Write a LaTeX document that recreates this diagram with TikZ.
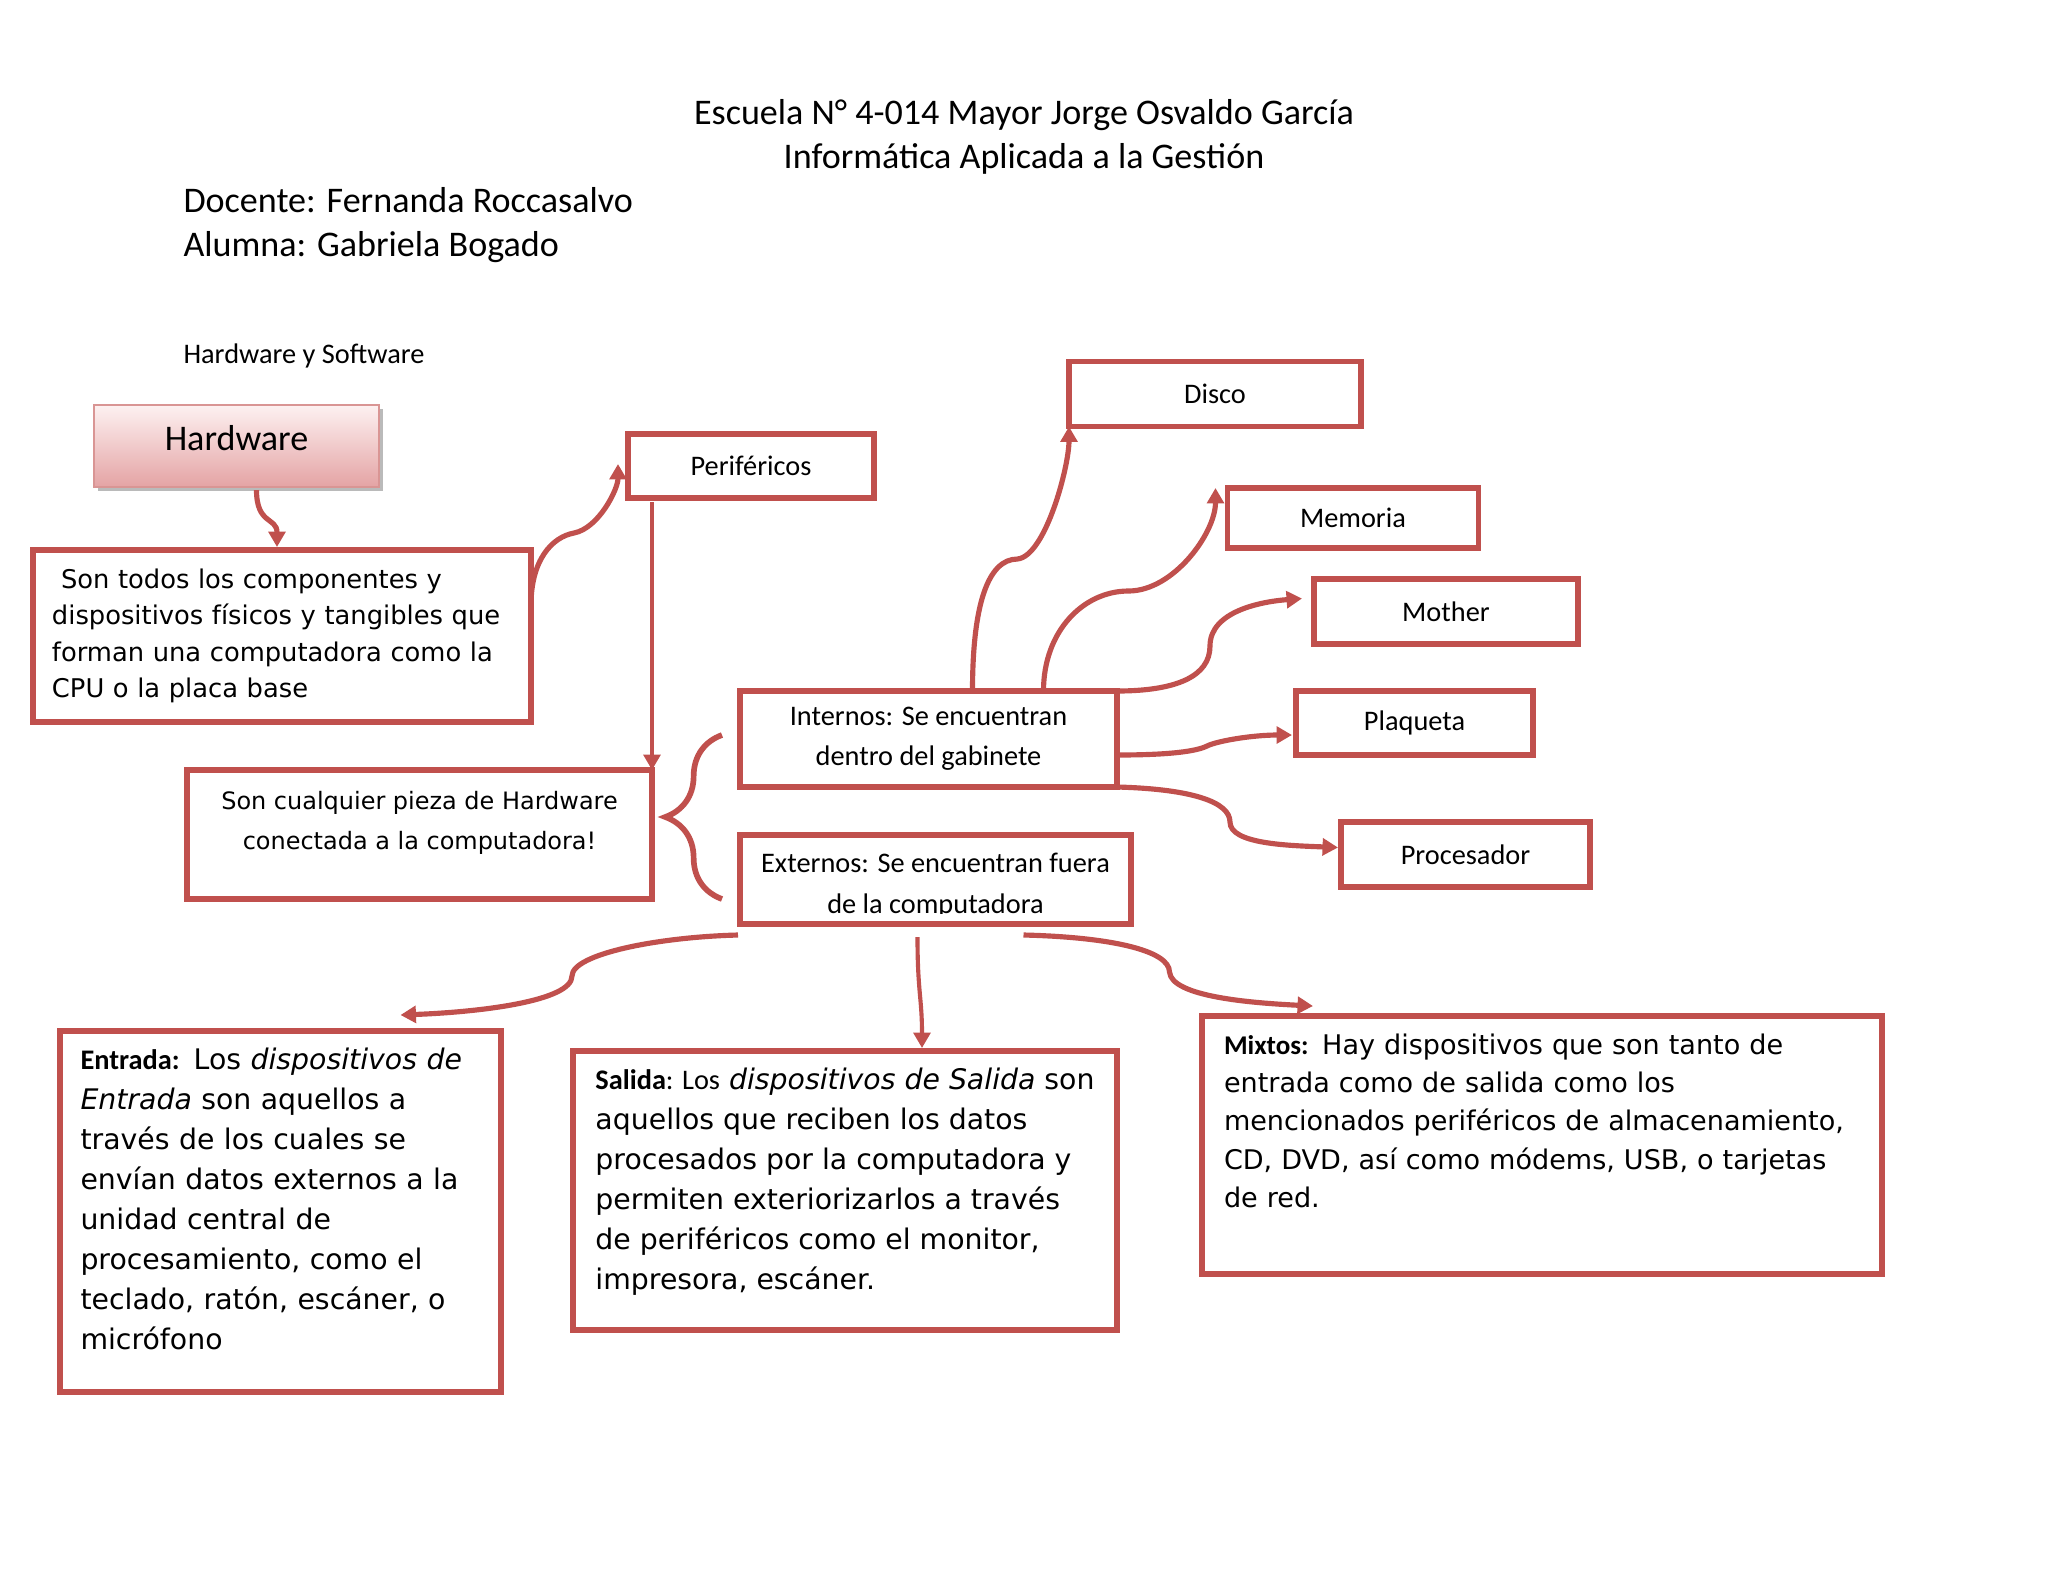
\documentclass[tikz,border=0pt]{standalone}
\usepackage{fontspec}
\setmainfont{Carlito}
\newfontfamily\verdana{DejaVu Sans}
\usepackage{tikz}
\usetikzlibrary{arrows.meta,positioning,calc,shadows,decorations.pathreplacing}
\definecolor{AccentRed}{HTML}{C0504D}
\definecolor{HwTop}{HTML}{FDF1F1}
\definecolor{HwPink}{HTML}{E4A3A4}
\definecolor{HwEdge}{HTML}{D99594}
\newcommand{\pu}{0.0136426cm}
\newcommand{\tagword}[1]{{\normalfont\bfseries #1}}
\newcommand{\padrule}[1]{\rule[-#1]{0pt}{#1}}

\begin{document}
\begin{tikzpicture}[x=\pu, y=-\pu, every node/.style={inner sep=0pt},
  box/.style={draw=AccentRed, line width=2.2pt, outer sep=0pt, fill=white, align=center, font=\fontsize{11}{15.5}\selectfont},
  hwbox/.style={draw=HwEdge, line width=0.8pt, top color=HwTop, bottom color=HwPink,
    drop shadow={shadow xshift=1.6pt, shadow yshift=-1.6pt, fill=black!45, opacity=0.6},
    font=\fontsize{14}{17}\selectfont},
  bodytext/.style={align=left, font=\verdana\fontsize{11}{15.5}\selectfont},
  link/.style={draw=AccentRed, line width=2pt, -{Triangle[length=6pt,width=6.5pt]}},
  curly/.style={draw=AccentRed, line width=2.2pt, decorate, decoration={brace, amplitude=22pt}}]
\useasboundingbox (0,0) rectangle (2048,1582);
\fill[white] (0,0) rectangle (2048,1582);

% heading
\node[align=center, font=\fontsize{14}{17}\selectfont] (title) at (1024,137) {Escuela N° 4-014 Mayor Jorge Osvaldo García\\Informática Aplicada a la Gestión};
\node[align=left, anchor=west, font=\fontsize{14}{17}\selectfont] (names) at (183,225) {Docente: Fernanda Roccasalvo\\Alumna: Gabriela Bogado};
\node[anchor=west, font=\fontsize{11}{13}\selectfont] (topic) at (183,356) {Hardware y Software};

% hardware
\node[hwbox, minimum width=285*\pu, minimum height=82*\pu] (hw) at (236.5,446) {Hardware\padrule{6pt}};
\node[box, align=left, text width=460*\pu, minimum width=498*\pu, minimum height=172*\pu, font=\verdana\fontsize{10}{14.1}\selectfont] (def) at (282,636)
  {\hspace*{0.35em}Son todos los componentes y\\dispositivos físicos y tangibles que\\forman una computadora como la\\CPU o la placa base};
\node[box, minimum width=246*\pu, minimum height=64*\pu] (peri) at (751,466) {Periféricos};
\node[box, minimum width=465*\pu, minimum height=129*\pu, font=\verdana\fontsize{9.3}{15.8}\selectfont] (son) at (419.5,834.5)
  {Son cualquier pieza de Hardware\\conectada a la computadora!\padrule{11pt}};

% internos / externos
\node[box, minimum width=377*\pu, minimum height=96*\pu] (int) at (928.5,739) {Internos: Se encuentran\\dentro del gabinete};
\node[box, minimum width=391*\pu, minimum height=89*\pu, font=\fontsize{11}{15.9}\selectfont] (ext) at (935.5,879.5) {\rule{0pt}{12pt}Externos: Se encuentran fuera\\de la computadora};
\fill[white] ($(ext.south west)+(4,-10)$) rectangle ($(ext.south east)+(-4,0)$);
\draw[AccentRed, line width=2.2pt] (ext.south west) rectangle (ext.north east);
\draw[curly] ($(ext.west)+(-18,19.5)$) -- ($(int.west)+(-18,-4)$);

% componentes internos
\node[box, minimum width=292*\pu, minimum height=65*\pu] (disco) at (1215,394) {Disco};
\node[box, minimum width=251*\pu, minimum height=60*\pu] (mem) at (1353,518) {Memoria};
\node[box, minimum width=264*\pu, minimum height=65*\pu] (mother) at (1446,611.5) {Mother};
\node[box, minimum width=237*\pu, minimum height=64*\pu] (plaq) at (1414.5,723) {Plaqueta};
\node[box, minimum width=249*\pu, minimum height=65*\pu] (proc) at (1465.5,854.5) {Procesador};

% externos
\node[box, bodytext, text width=400*\pu, minimum width=441*\pu, minimum height=361*\pu] (ent) at (280.5,1211.5)
  {\tagword{Entrada:} Los \textit{dispositivos de}\\\textit{Entrada} son aquellos a\\través de los cuales se\\envían datos externos a la\\unidad central de\\procesamiento, como el\\teclado, ratón, escáner, o\\micrófono\padrule{10pt}};
\node[box, bodytext, minimum width=544*\pu, minimum height=279*\pu] (sal) at (845,1190.5)
  {\tagword{Salida}{\normalfont: Los} \textit{dispositivos de Salida} son\\aquellos que reciben los datos\\procesados por la computadora y\\permiten exteriorizarlos a través\\de periféricos como el monitor,\\impresora, escáner.\padrule{9pt}};
\node[box, bodytext, text width=636*\pu, font=\verdana\fontsize{10.5}{14.9}\selectfont, minimum width=680*\pu, minimum height=258*\pu] (mix) at (1542,1145)
  {\tagword{Mixtos:} Hay dispositivos que son tanto de\\entrada como de salida como los\\mencionados periféricos de almacenamiento,\\CD, DVD, así como módems, USB, o tarjetas\\de red.\padrule{19pt}};

% connectors
\draw[link] ($(hw.south)+(20,2)$) .. controls +(0,35) and +(0,-30) .. ($(def.north)+(-5,-3)$);
\draw[link] ($(def.north east)+(0,55)$) .. controls +(0,-45) and +(-22,4) .. ++(43,-72) .. controls +(25,-5) and +(0,25) .. ($(peri.west)+(-10,-2)$);
\draw[link, line width=1.7pt] ($(peri.south -| son.north east)+(0,4)$) -- (son.north east);
\draw[link] ($(int.north)+(44,0)$) .. controls +(0,-85) and +(-30,0) .. ++(45,-132) .. controls +(28,-3) and +(0,40) .. (disco.south west);
\draw[link] ($(int.north)+(115,0)$) .. controls +(0,-60) and +(-45,0) .. ++(85,-100) .. controls +(45,0) and +(0,45) .. ($(mem.north west)+(-12,0)$);
\draw[link] (int.north east) .. controls +(60,0) and +(0,30) .. ++(93,-45) .. controls +(0,-35) and +(-40,3) .. ($(mother.west)+(-12,-13)$);
\draw[link] ($(int.east)+(0,16)$) .. controls +(55,0) and +(-10,5) .. ++(90,-9) .. controls +(10,-5) and +(-40,0) .. ($(plaq.west)+(-4,12)$);
\draw[link] (int.south east) .. controls +(75,2) and +(0,-20) .. ++(113,35) .. controls +(0,22) and +(-50,-2) .. ($(proc.west)+(-3,-7)$);
\draw[link] ($(ext.south west)+(-2,11)$) .. controls +(-80,2) and +(0,-22) .. ++(-166,41) .. controls +(0,25) and +(80,-3) .. ($(ent.north)+(120,-16)$);
\draw[link, line width=1.6pt] ($(ext.south)+(-18,13)$) .. controls +(0,55) and +(0,-50) .. ($(sal.north)+(77,-3)$);
\draw[link] ($(ext.south)+(88,11)$) .. controls +(85,2) and +(0,-22) .. ++(146,37) .. controls +(2,25) and +(-60,-3) .. ($(mix.north west)+(111,-10)$);
\end{tikzpicture}
\end{document}
